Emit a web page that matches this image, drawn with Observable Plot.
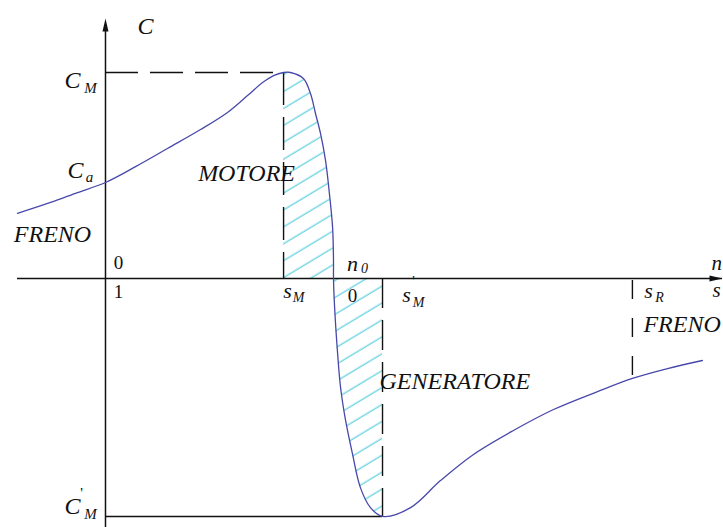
<!DOCTYPE html>
<html>
<head>
<meta charset="utf-8">
<script src="https://cdn.jsdelivr.net/npm/d3@7"></script>
<script src="https://cdn.jsdelivr.net/npm/@observablehq/plot@0.6"></script>
<style>
  html, body { margin: 0; padding: 0; background: #fff; overflow: hidden; }
</style>
</head>
<body>
<div id="chart"></div>
<script>
// Torque–slip characteristic of an induction machine (C in units of C_M, slip s).
const curveS = [1.386, 1.241, 1.123, 1.0, 0.866, 0.728, 0.583, 0.465, 0.377, 0.311, 0.263, 0.219,
                0.189, 0.132, 0.101, 0.079, 0.057, 0.035, 0.018, 0.004, 0.0, 0.0,
                -0.004, -0.018, -0.031, -0.053, -0.083, -0.118, -0.162, -0.215,
                -0.338, -0.469, -0.614, -0.789, -0.965, -1.158, -1.311, -1.465, -1.618];
const curveC = [0.316, 0.369, 0.417, 0.466, 0.544, 0.631, 0.723, 0.806, 0.888, 0.951, 0.985, 1.0,
                1.0, 0.971, 0.898, 0.801, 0.704, 0.573, 0.413, 0.248, 0.087, 0.0,
                -0.121, -0.364, -0.529, -0.689, -0.850, -1.015, -1.112, -1.155,
                -1.112, -0.981, -0.854, -0.738, -0.636, -0.549, -0.485, -0.437, -0.398];

// Characteristic points
const sM = 0.219;     // slip at maximum motor torque
const sMp = -0.215;   // slip at maximum generator torque
const sR = -1.311;    // slip marked on the braking branch
const CM = 1.0;       // maximum motor torque
const CMp = -1.155;   // maximum generator torque
const Ca = 0.466;     // starting torque (s = 1)
const CR = -0.485;    // torque at s_R

// Axis extents and scale domains
const sAxis = [1.386, -1.706];
const cAxis = [1.262, -1.21];
const sDomain = [1.4605, -1.7105];
const cDomain = [-1.2087, 1.3495];

// Text
const regionNames = ["MOTORE", "GENERATORE", "FRENO"];
const torqueNames = ["C", "M", "a", "'"];
const slipNames = ["s", "n", "0", "1", "R"];

const curve = curveS.map((s, i) => ({s, c: curveC[i]}));
const motorArea = curve.filter(d => d.s >= 0 && d.s <= sM);
const genArea = curve.filter(d => d.s <= 0 && d.s >= sMp);

const serif = "Liberation Serif, Times New Roman, serif";
const tx = (t, s, c, opts = {}) => Plot.text([{t, s, c}], {
  x: "s", y: "c", text: "t",
  fontFamily: serif, fontSize: 24, fontStyle: "italic",
  textAnchor: "middle", lineAnchor: "middle", fill: "#111",
  ...opts
});

// filled, elongated arrowhead with its tip at the origin, pointing up
const arrowHead = {
  draw(ctx, size) {
    const r = Math.sqrt(size / Math.PI);
    ctx.moveTo(0, 0);
    ctx.lineTo(r * 0.46, r * 2);
    ctx.lineTo(-r * 0.46, r * 2);
    ctx.closePath();
  }
};

const dash = "33,12";
const ink = "#111";

const svg = Plot.plot({
  width: 723,
  height: 527,
  margin: 0,
  x: {domain: sDomain, axis: null},
  y: {domain: cDomain, axis: null},
  style: {background: "#fff"},
  marks: [
    // hatched regions between s_M and s'_M
    Plot.areaY(motorArea, {x: "s", y1: 0, y2: "c", fill: "url(#hatch)", curve: "catmull-rom"}),
    Plot.areaY(genArea, {x: "s", y1: 0, y2: "c", fill: "url(#hatch)", curve: "catmull-rom"}),

    // reference lines
    Plot.ruleY([CM], {x1: 1, x2: sM, stroke: ink, strokeWidth: 1.4, strokeDasharray: dash}),
    Plot.ruleX([sM], {y1: CM, y2: 0, stroke: ink, strokeWidth: 1.4, strokeDasharray: dash}),
    Plot.ruleX([sMp], {y1: 0, y2: CMp, stroke: ink, strokeWidth: 1.4, strokeDasharray: "30,12"}),
    Plot.ruleY([CMp], {x1: 1, x2: sMp, stroke: ink, strokeWidth: 1.4}),
    Plot.ruleX([sR], {y1: -0.01, y2: CR, stroke: ink, strokeWidth: 1.4, strokeDasharray: "19,19"}),

    // axes
    Plot.ruleY([0], {x1: sAxis[0], x2: sAxis[1], stroke: ink, strokeWidth: 1.5}),
    Plot.ruleX([1], {y1: cAxis[0] - 0.03, y2: cAxis[1], stroke: ink, strokeWidth: 1.5}),
    Plot.dot([{s: 1, c: cAxis[0]}], {x: "s", y: "c", symbol: arrowHead, r: 6.5, fill: ink, stroke: "none"}),
    Plot.dot([{s: sAxis[1], c: 0}], {x: "s", y: "c", symbol: arrowHead, r: 6.5, fill: ink, stroke: "none", rotate: 90}),

    // torque characteristic
    Plot.line(curve, {x: "s", y: "c", stroke: "#4848aa", strokeWidth: 1.3, curve: "catmull-rom"}),

    // torque labels
    tx(torqueNames[0], 1, cAxis[0], {dx: 40, dy: 8}),
    tx(torqueNames[0], 1, CM, {dx: -33, dy: 8}),
    tx(torqueNames[1], 1, CM, {dx: -15, dy: 16, fontSize: 15}),
    tx(torqueNames[0], 1, Ca, {dx: -30, dy: -12}),
    tx(torqueNames[2], 1, Ca, {dx: -16, dy: -5, fontSize: 15}),
    tx(torqueNames[0], 1, CMp, {dx: -33, dy: -10}),
    tx(torqueNames[3], 1, CMp, {dx: -24, dy: -23, fontSize: 15, fontStyle: "normal"}),
    tx(torqueNames[1], 1, CMp, {dx: -15, dy: -2, fontSize: 15}),

    // slip / speed labels along the horizontal axis
    tx(slipNames[2], 1, 0, {dx: 13, dy: -16, fontSize: 19, fontStyle: "normal"}),
    tx(slipNames[3], 1, 0, {dx: 13, dy: 13, fontSize: 19, fontStyle: "normal"}),
    tx(slipNames[0], sM, 0, {dx: 4, dy: 12, fontSize: 22}),
    tx(torqueNames[1], sM, 0, {dx: 15, dy: 19, fontSize: 14}),
    tx(slipNames[1], 0, 0, {dx: 19, dy: -15, fontSize: 22}),
    tx(slipNames[2], 0, 0, {dx: 31, dy: -10, fontSize: 14}),
    tx(slipNames[2], 0, 0, {dx: 19, dy: 17, fontSize: 19, fontStyle: "normal"}),
    tx(slipNames[0], sMp, 0, {dx: 24, dy: 16, fontSize: 22}),
    tx(torqueNames[3], sMp, 0, {dx: 31, dy: 3, fontSize: 14, fontStyle: "normal"}),
    tx(torqueNames[1], sMp, 0, {dx: 36, dy: 24, fontSize: 14}),
    tx(slipNames[0], sR, 0, {dx: 16, dy: 12, fontSize: 22}),
    tx(slipNames[4], sR, 0, {dx: 27, dy: 19, fontSize: 14}),
    tx(slipNames[1], sAxis[1], 0, {dx: -11, dy: -15, fontSize: 21, textAnchor: "start"}),
    tx(slipNames[0], sAxis[1], 0, {dx: -10, dy: 12, fontSize: 21, textAnchor: "start"}),

    // operating regions
    tx(regionNames[0], sM, 0, {dx: -37, dy: -105}),
    tx(regionNames[1], sMp, 0, {dx: -3, dy: 103, textAnchor: "start"}),
    tx(regionNames[2], 1, 0, {dx: -53, dy: -44}),
    tx(regionNames[2], sR, 0, {dx: 11, dy: 46, textAnchor: "start"})
  ]
});

// diagonal hatch pattern used by the shaded areas
const defs = d3.select(svg).insert("defs", ":first-child");
defs.append("pattern")
  .attr("id", "hatch")
  .attr("patternUnits", "userSpaceOnUse")
  .attr("width", 14)
  .attr("height", 14.5)
  .attr("patternTransform", "rotate(-31)")
  .append("line")
  .attr("x1", 0).attr("x2", 14)
  .attr("y1", 7).attr("y2", 7)
  .attr("stroke", "#66d2e0")
  .attr("stroke-width", 1.3);

document.getElementById("chart").append(svg);
</script>
</body>
</html>
